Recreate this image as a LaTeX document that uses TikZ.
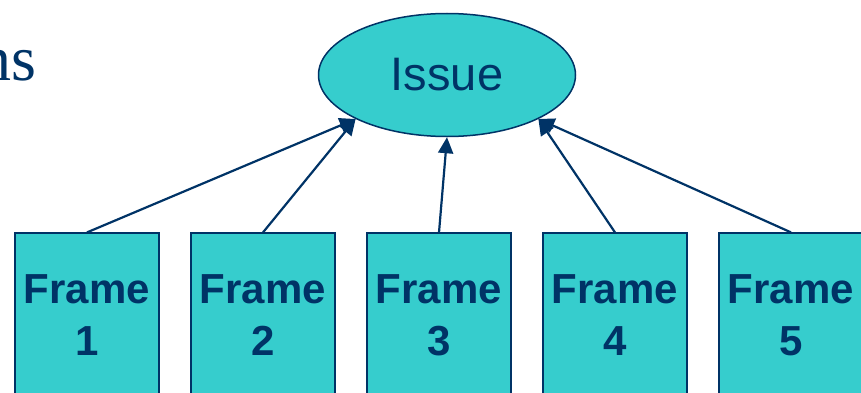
\documentclass[tikz,border=0pt]{standalone}
\usepackage{fontspec}
\setmainfont{Liberation Serif}
\setsansfont{Liberation Sans}
\usetikzlibrary{shapes.geometric,arrows.meta}
\definecolor{navy}{HTML}{003366}
\definecolor{boxteal}{HTML}{36CDCD}

\begin{document}
\begin{tikzpicture}[x=1pt,y=1pt,
    framebox/.style={draw=navy, line width=1.2pt, fill=boxteal, minimum width=144pt, minimum height=164pt,
        align=center, text=navy, font=\sffamily\bfseries\fontsize{42}{52}\selectfont},
    issuenode/.style={ellipse, draw=navy, line width=1.5pt, fill=boxteal, minimum width=257pt,
        minimum height=123pt, inner sep=0pt, text=navy, font=\sffamily\fontsize{47}{56}\selectfont},
    link/.style={draw=navy, line width=2.2pt, -{Triangle[length=16pt,width=15pt]}}]
    \useasboundingbox (0,0) rectangle (861,392);

    \node[anchor=base east, inner sep=0pt, text=navy, font=\fontsize{64}{70}\selectfont] (ns) at (37,312) {ns};

    \node[issuenode] (issue) at (447,317) {Issue};

    \node[framebox] (frame1) at (87,77) {Frame\\1};
    \node[framebox] (frame2) at (263,77) {Frame\\2};
    \node[framebox] (frame3) at (439,77) {Frame\\3};
    \node[framebox] (frame4) at (615,77) {Frame\\4};
    \node[framebox] (frame5) at (791,77) {Frame\\5};

    \draw[link] (frame1.north) -- (issue.south west);
    \draw[link] (frame2.north) -- (issue.south west);
    \draw[link] (frame3.north) -- (issue.south);
    \draw[link] (frame4.north) -- (issue.south east);
    \draw[link] (frame5.north) -- (issue.south east);
\end{tikzpicture}
\end{document}
